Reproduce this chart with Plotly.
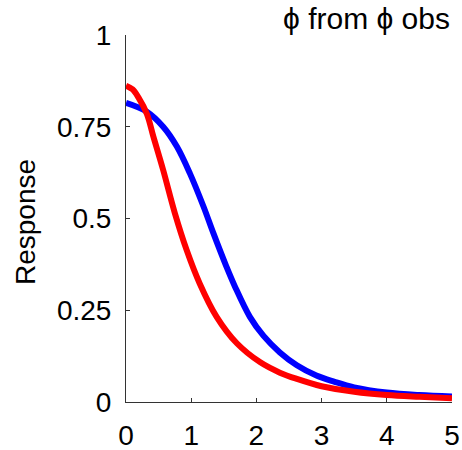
import plotly.graph_objects as go

# data
x_blue = [0, 0.32, 0.57, 0.78, 0.98, 1.19, 1.34, 1.54, 1.67, 1.90, 2.11, 2.36, 2.62, 2.92, 3.2, 3.5, 4.0, 4.5, 5.0]
y_blue = [0.815, 0.791, 0.75, 0.696, 0.623, 0.532, 0.46, 0.369, 0.315, 0.232, 0.180, 0.135, 0.100, 0.072, 0.055, 0.040, 0.026, 0.019, 0.015]

x_red = [0, 0.1, 0.19, 0.32, 0.42, 0.57, 0.75, 0.93, 1.13, 1.39, 1.70, 2.06, 2.36, 2.62, 3.0, 3.5, 4.0, 4.5, 5.0]
y_red = [0.862, 0.852, 0.830, 0.785, 0.723, 0.632, 0.514, 0.414, 0.323, 0.232, 0.16, 0.108, 0.080, 0.063, 0.043, 0.028, 0.019, 0.014, 0.01]

x_ticks = [0, 1, 2, 3, 4, 5]
y_ticks = [0, 0.25, 0.5, 0.75, 1]
y_ticklabels = ["0", "0.25", "0.5", "0.75", "1"]

title_text = "\u03d5 from \u03d5 obs"
ylabel = "Response"

FONT = "Liberation Sans, Arial, sans-serif"

fig = go.Figure()
fig.add_trace(go.Scatter(x=x_blue, y=y_blue, mode="lines",
                         line=dict(color="#0000FF", width=6, shape="spline", smoothing=1.0),
                         showlegend=False))
fig.add_trace(go.Scatter(x=x_red, y=y_red, mode="lines",
                         line=dict(color="#FF0000", width=6, shape="spline", smoothing=1.0),
                         showlegend=False))

axis_common = dict(showgrid=False, zeroline=False, showline=True, linecolor="#333333",
                   linewidth=1, ticks="inside", ticklen=4, tickcolor="#333333",
                   automargin=False, ticklabelstandoff=8,
                   tickfont=dict(family=FONT, size=28, color="black"))

fig.update_xaxes(range=[0, 5], tickvals=x_ticks, ticktext=[str(v) for v in x_ticks], **axis_common)
fig.update_yaxes(range=[0, 1], tickvals=y_ticks, ticktext=y_ticklabels, **axis_common)

fig.add_annotation(text=title_text, xref="paper", yref="paper", x=1.0, y=1 + (35 - 18) / 367,
                   xanchor="right", yanchor="middle", showarrow=False,
                   font=dict(family=FONT, size=30, color="black"))
fig.add_annotation(text=ylabel, xref="paper", yref="paper", x=(25 - 126) / 326, y=(402 - 222) / 367,
                   xanchor="center", yanchor="middle", textangle=-90, showarrow=False,
                   font=dict(family=FONT, size=28, color="black"))

fig.update_layout(width=462, height=450, margin=dict(l=126, r=10, t=35, b=48),
                  plot_bgcolor="white", paper_bgcolor="white", hovermode=False)

fig.write_html("out.html", config={"displayModeBar": False, "staticPlot": True},
               post_script="document.body.style.margin='0';document.body.style.overflow='hidden';")
